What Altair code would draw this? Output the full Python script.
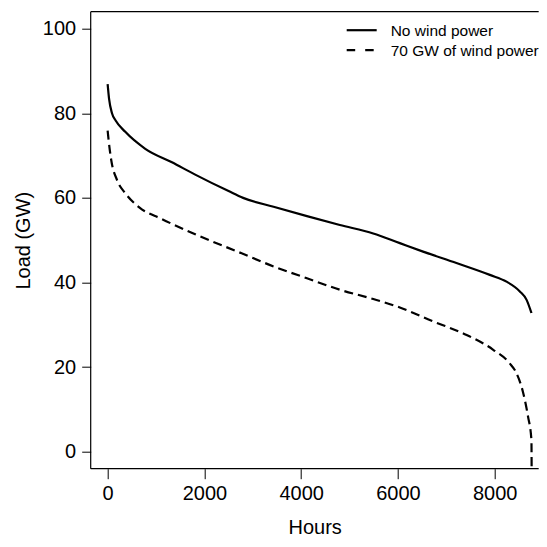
import altair as alt
import pandas as pd

# Load duration curve without wind power
hours_none = [0, 30, 90, 165, 365, 778, 1330, 1810, 2500, 2800, 3430, 4120, 4800, 5490, 6040, 6520, 7210, 7900, 8245, 8520, 8660, 8760]
load_none = [86.9, 83.4, 80.0, 78.3, 75.6, 71.6, 68.4, 65.5, 61.6, 60.0, 57.9, 55.7, 53.6, 51.6, 49.3, 47.3, 44.6, 41.8, 40.2, 37.9, 35.9, 32.8]

# Net load duration curve with 70 GW of wind power
hours_wind = [0, 20, 75, 195, 365, 660, 1120, 1810, 2770, 3430, 4120, 4800, 5490, 6040, 6730, 7420, 7970, 8310, 8450, 8590, 8690, 8760, 8765]
load_wind = [75.9, 73.7, 68.9, 64.2, 61.1, 57.7, 55.0, 51.4, 46.9, 43.8, 41.0, 38.3, 36.1, 34.1, 30.8, 27.6, 24.1, 20.9, 18.6, 13.9, 8.3, 2.8, -6.0]

x_ticks = [0, 2000, 4000, 6000, 8000]
y_ticks = [0, 20, 40, 60, 80, 100]
legend_labels = ["No wind power", "70 GW of wind power"]

FONT = "Liberation Sans"
W, H = 448, 457

df_none = pd.DataFrame({"Hours": hours_none, "Load": load_none})
df_wind = pd.DataFrame({"Hours": hours_wind, "Load": load_wind})

xscale = alt.Scale(domain=[-350, 8910], nice=False, zero=False)
yscale = alt.Scale(domain=[-4, 104], nice=False, zero=False)

xaxis = alt.Axis(values=x_ticks, format="d", title="Hours", domain=False, grid=False,
                 tickSize=10, tickColor="black", tickWidth=1,
                 labelFont=FONT, labelFontSize=20, labelColor="black", labelPadding=5,
                 labelFlush=False, labelOverlap=False,
                 titleFont=FONT, titleFontSize=20, titleFontWeight="normal",
                 titleColor="black", titlePadding=14)
yaxis = alt.Axis(values=y_ticks, format="d", title="Load (GW)", domain=False, grid=False,
                 tickSize=9, tickColor="black", tickWidth=1,
                 labelFont=FONT, labelFontSize=20, labelColor="black", labelPadding=6,
                 labelFlush=False, labelOverlap=False,
                 titleFont=FONT, titleFontSize=20, titleFontWeight="normal",
                 titleColor="black", titlePadding=9)

line_none = alt.Chart(df_none).mark_line(color="black", strokeWidth=2.2, clip=True,
                                         interpolate="monotone").encode(
    x=alt.X("Hours:Q", scale=xscale, axis=xaxis),
    y=alt.Y("Load:Q", scale=yscale, axis=yaxis),
    order="Hours:Q",
)
line_wind = alt.Chart(df_wind).mark_line(color="black", strokeWidth=2.2, strokeDash=[9, 5],
                                         strokeCap="butt", clip=True,
                                         interpolate="monotone").encode(
    x=alt.X("Hours:Q", scale=xscale),
    y=alt.Y("Load:Q", scale=yscale),
    order="Hours:Q",
)

# Box on top, left and bottom (right side lies beyond the visible page)
box_df = pd.DataFrame({"side": ["frame"]})
top_rule = alt.Chart(box_df).mark_rule(color="black", strokeWidth=1.2).encode(
    x=alt.value(0), x2=alt.value(W), y=alt.value(0))
bottom_rule = alt.Chart(box_df).mark_rule(color="black", strokeWidth=1.2).encode(
    x=alt.value(0), x2=alt.value(W), y=alt.value(H))
left_rule = alt.Chart(box_df).mark_rule(color="black", strokeWidth=1.2).encode(
    x=alt.value(0), y=alt.value(0), y2=alt.value(H))

# Legend (top right, inside plot)
leg1 = pd.DataFrame({"label": [legend_labels[0]]})
leg2 = pd.DataFrame({"label": [legend_labels[1]]})
rule1 = alt.Chart(leg1).mark_rule(color="black", strokeWidth=2.2).encode(
    x=alt.value(256), x2=alt.value(286), y=alt.value(18.5))
rule2 = alt.Chart(leg2).mark_rule(color="black", strokeWidth=2.2, strokeDash=[8.5, 10],
                                  strokeCap="butt").encode(
    x=alt.value(256), x2=alt.value(286), y=alt.value(38.5))
text1 = alt.Chart(leg1).mark_text(align="left", baseline="middle", font=FONT, fontSize=15.5,
                                  color="black").encode(
    x=alt.value(300), y=alt.value(19), text="label:N")
text2 = alt.Chart(leg2).mark_text(align="left", baseline="middle", font=FONT, fontSize=15.5,
                                  color="black").encode(
    x=alt.value(300), y=alt.value(39), text="label:N")

chart = alt.layer(line_none, line_wind, top_rule, bottom_rule, left_rule,
                  rule1, rule2, text1, text2).properties(
    width=W, height=H,
    autosize=alt.AutoSizeParams(type="none"),
    padding={"left": 82.7, "top": 3.7, "right": 0, "bottom": 69},
    background="white",
).configure_view(stroke=None)

chart.save("out.html", embed_options={"renderer": "svg", "actions": False})
